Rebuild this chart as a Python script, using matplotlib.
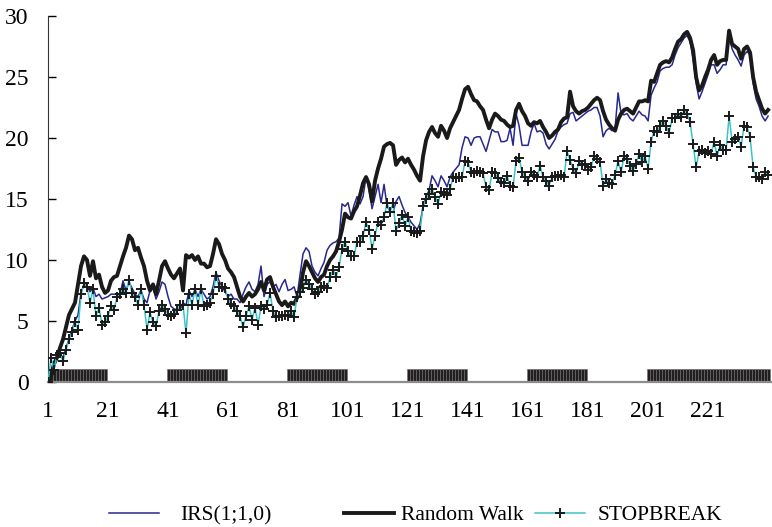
import numpy as np
import matplotlib
matplotlib.use('Agg')
import matplotlib.pyplot as plt

plt.rcParams['font.family'] = ['Liberation Serif', 'DejaVu Serif']

# series, one value per period (241 periods)
irs = [0, 1.0, 1.2, 2.0, 2.3, 2.0, 2.8, 3.5, 4.3, 5.0,
       5.5, 7.3, 8.0, 7.9, 7.4, 7.7, 7.0, 7.2, 6.8, 6.9,
       7.0, 7.2, 7.2, 7.2, 7.2, 8.3, 7.5, 8.2, 7.7, 7.2,
       7.0, 7.5, 6.8, 6.5, 7.5, 7.8, 6.8, 7.4, 8.2, 8.0,
       7.0, 6.2, 6.0, 5.9, 5.9, 6.5, 6.3, 7.5, 7.0, 7.6,
       7.0, 7.6, 7.2, 6.8, 7.0, 7.8, 9.0, 8.3, 7.8, 7.4,
       7.0, 7.2, 6.8, 6.8, 6.5, 7.2, 7.8, 8.2, 7.6, 7.4,
       8.0, 9.5, 7.0, 8.0, 8.2, 7.8, 8.0, 7.4, 8.0, 8.4,
       7.5, 7.6, 7.8, 7.0, 8.8, 10.5, 11.0, 10.7, 9.5, 9.0,
       8.7, 9.3, 9.8, 10.8, 11.2, 11.4, 11.5, 11.8, 14.6, 14.4,
       14.7, 13.6, 14.5, 15.2, 14.6, 15.2, 16.8, 15.8, 14.2, 15.2,
       16.2, 14.7, 16.2, 14.4, 14.0, 13.9, 14.8, 15.2, 14.5, 13.9,
       13.5, 13.1, 12.8, 12.5, 13.0, 14.4, 15.2, 15.7, 16.9, 16.5,
       16.0, 16.9, 16.5, 16.0, 16.8, 17.2, 17.5, 17.8, 19.2, 20.1,
       20.0, 19.4, 20.0, 20.1, 20.1, 19.5, 18.9, 19.8, 20.7, 20.5,
       20.5, 19.7, 19.7, 19.8, 20.8, 19.4, 22.0, 21.0, 19.4, 19.4,
       19.4, 20.5, 21.2, 20.5, 20.6, 20.4, 19.5, 19.1, 19.5, 19.9,
       20.6, 20.9, 21.1, 21.2, 22.0, 22.1, 21.4, 21.6, 21.8, 22.0,
       22.2, 22.3, 22.5, 22.5, 21.8, 20.1, 20.6, 20.8, 20.6, 20.8,
       23.7, 22.0, 21.9, 22.0, 21.6, 21.4, 21.8, 22.2, 21.9, 21.8,
       21.4, 23.5, 24.1, 24.6, 25.5, 25.7, 25.8, 25.8, 26.0, 26.8,
       27.4, 27.8, 28.2, 28.4, 27.9, 26.5, 24.5, 23.2, 23.8, 24.5,
       25.2, 26.0, 26.0, 25.3, 25.6, 26.0, 26.0, 28.4, 27.3, 26.8,
       26.4, 25.9, 26.8, 27.1, 26.8, 24.5, 23.2, 22.6, 21.8, 21.4,
       21.8]

random_walk = [0, 0.5, 1.5, 2.0, 2.8, 3.5, 4.5, 5.5, 6.0, 6.5,
               8.0, 9.5, 10.3, 10.0, 8.7, 9.9, 8.5, 8.8, 7.8, 7.3,
               7.5, 8.3, 8.6, 8.7, 9.5, 10.3, 11.0, 12.0, 11.7, 10.8,
               11.0, 10.2, 9.5, 8.3, 7.5, 8.0, 7.2, 8.3, 9.5, 9.9,
               9.3, 8.8, 8.5, 8.9, 9.3, 7.5, 10.4, 10.2, 10.4, 10.0,
               10.3, 9.7, 9.7, 9.4, 9.5, 10.5, 11.7, 11.3, 10.5, 10.0,
               9.3, 9.0, 8.6, 7.8, 7.0, 6.6, 7.0, 7.3, 7.0, 7.2,
               7.6, 8.2, 7.5, 8.4, 8.6, 7.8, 7.2, 6.6, 6.3, 6.6,
               6.2, 6.5, 6.4, 6.9, 7.5, 9.0, 9.9, 9.5, 9.0, 8.5,
               8.2, 8.6, 8.8, 9.5, 10.0, 10.3, 10.7, 11.5, 12.5, 13.8,
               13.5, 13.4, 14.0, 14.4, 15.3, 16.3, 16.8, 16.2, 14.8, 16.5,
               17.5, 18.3, 19.3, 19.5, 19.6, 19.4, 17.8, 18.2, 18.4, 18.0,
               18.3, 17.8, 17.4, 16.9, 16.5, 18.5, 19.8, 20.5, 20.9, 20.4,
               20.1, 21.0, 20.6, 20.0, 20.8, 21.3, 21.8, 22.3, 23.2, 24.0,
               24.2, 23.6, 23.1, 23.0, 22.6, 22.3, 21.5, 20.8, 21.5, 22.0,
               21.8, 21.5, 21.4, 21.1, 20.9, 21.0, 22.3, 22.8, 22.2, 21.8,
               21.2, 21.0, 21.3, 21.2, 21.4, 20.9, 20.5, 20.0, 20.2, 20.5,
               20.7, 21.3, 21.6, 21.7, 23.8, 22.6, 22.2, 22.0, 22.2, 22.3,
               22.5, 22.8, 23.1, 23.3, 23.1, 22.2, 21.5, 21.1, 20.8, 20.6,
               21.5, 22.0, 22.3, 22.4, 22.2, 22.0, 22.5, 23.0, 23.0, 23.1,
               23.0, 24.7, 24.6, 25.3, 26.0, 26.2, 26.3, 26.2, 26.6, 27.3,
               27.9, 28.1, 28.5, 28.7, 28.2, 27.2, 25.0, 23.9, 24.3, 25.0,
               25.6, 26.4, 26.8, 26.0, 26.3, 26.4, 26.4, 28.8, 27.7, 27.5,
               27.3, 26.5, 27.3, 27.5, 27.0, 25.0, 23.8, 23.1, 22.4, 22.0,
               22.3]

stopbreak = [0.0, 2.0, 1.0, 2.2, 2.4, 1.7, 2.6, 3.5, 4.1, 4.9,
             4.3, 7.2, 8.1, 7.8, 6.5, 7.6, 5.4, 6.1, 4.7, 4.9,
             5.4, 6.2, 5.9, 7.0, 7.2, 7.6, 7.3, 8.4, 7.3, 7.0,
             6.3, 7.6, 6.3, 4.3, 5.7, 4.9, 4.6, 5.8, 6.3, 6.0,
             5.5, 5.4, 5.6, 5.9, 6.3, 6.3, 4.0, 7.2, 6.3, 7.6,
             6.3, 7.6, 6.2, 6.3, 6.5, 7.2, 8.7, 7.8, 7.8, 7.7,
             6.8, 6.4, 6.2, 5.8, 5.4, 4.5, 5.4, 6.2, 5.1, 6.1,
             4.7, 6.2, 6.0, 6.3, 7.3, 5.8, 5.3, 5.4, 5.4, 5.5,
             5.4, 5.8, 5.3, 7.0, 7.4, 7.7, 8.4, 8.0, 7.6, 7.2,
             7.4, 7.8, 7.9, 7.7, 8.6, 9.2, 8.6, 9.4, 10.9, 11.5,
             10.7, 10.3, 10.3, 11.5, 11.5, 12.0, 13.1, 12.5, 10.9, 12.0,
             13.1, 12.9, 13.5, 14.7, 13.9, 14.7, 12.4, 13.0, 13.7, 12.8,
             13.5, 12.4, 12.3, 12.2, 12.4, 14.4, 15.0, 15.4, 15.8, 15.2,
             14.6, 15.6, 15.5, 15.3, 15.8, 16.8, 16.7, 16.8, 16.8, 18.1,
             18.0, 17.2, 17.1, 17.3, 17.2, 17.1, 16.0, 15.7, 17.2, 17.1,
             16.7, 16.4, 16.3, 16.9, 16.1, 16.0, 18.1, 18.4, 17.2, 16.8,
             16.5, 17.2, 17.0, 16.8, 17.7, 16.8, 16.5, 16.1, 16.8, 16.9,
             16.9, 17.0, 16.8, 18.9, 18.2, 17.5, 17.1, 18.1, 17.8, 17.9,
             17.4, 17.6, 18.5, 18.3, 18.0, 16.1, 16.6, 16.3, 16.2, 17.0,
             18.1, 17.2, 18.5, 18.3, 17.7, 17.3, 17.9, 18.7, 18.0, 18.5,
             17.5, 19.7, 20.6, 20.5, 21.0, 21.4, 21.0, 20.4, 21.6, 21.6,
             22.0, 21.7, 22.3, 22.0, 21.3, 19.5, 17.6, 18.9, 19.0, 18.8,
             18.9, 18.7, 19.7, 18.5, 19.4, 19.0, 19.0, 21.8, 19.7, 19.9,
             20.1, 19.3, 21.0, 20.9, 20.1, 17.6, 16.8, 16.8, 16.6, 17.2,
             17.0]

# shaded periods along the bottom (first, last period)
regimes = [(1, 20), (41, 60), (81, 100), (121, 140), (161, 180), (201, 241)]
regime_level = 1.1

xticks = [1, 21, 41, 61, 81, 101, 121, 141, 161, 181, 201, 221]
yticks = [0, 5, 10, 15, 20, 25, 30]

n = np.arange(1, len(random_walk) + 1)
regime = np.zeros(len(n))
for a, b in regimes:
    regime[(n >= a) & (n <= b)] = regime_level

fig = plt.figure(figsize=(7.72, 5.27), dpi=100)
ax = fig.add_axes([48/772, 145/527, 724/772, 366/527])

ax.bar(n, regime, width=1.0, color='#231f20', edgecolor='#6e6e6e', linewidth=0.4, zorder=1)
l1, = ax.plot(n, irs, color='#28288e', lw=1.1, zorder=2, label='IRS(1;1,0)')
l2, = ax.plot(n, random_walk, color='#1a1a1a', lw=2.8, zorder=3, label='Random Walk')
l3, = ax.plot(n, stopbreak, color='#3cc4c4', lw=1.1, marker='+', ms=7, mew=1.4,
              mec='#1a1a1a', zorder=4, label='STOPBREAK')

ax.set_xlim(1, 242.3)
ax.set_ylim(0, 30)
ax.set_xticks(xticks)
ax.set_yticks(yticks)
ax.tick_params(axis='x', length=0, pad=14, labelsize=17)
ax.tick_params(axis='y', direction='in', length=6, width=1, pad=14, labelsize=17)

ax.spines['top'].set_visible(False)
ax.spines['right'].set_visible(False)
ax.spines['left'].set_color('#333333')
ax.spines['bottom'].set_color('#8c8c8c')
ax.spines['bottom'].set_linewidth(1.6)

# legend entries sit at fixed spots under the plot
legend_x = [109, 344, 535]
legend_pad = [1.0, 0.37, 0.6]
for h, x0, p in zip([l1, l2, l3], legend_x, legend_pad):
    fig.legend(handles=[h], loc='center left', bbox_to_anchor=(x0/772, 1 - 515/527),
               frameon=False, fontsize=15.5, handlelength=2.3, handletextpad=p,
               borderpad=0, borderaxespad=0)

plt.savefig('out.png', dpi=100)
